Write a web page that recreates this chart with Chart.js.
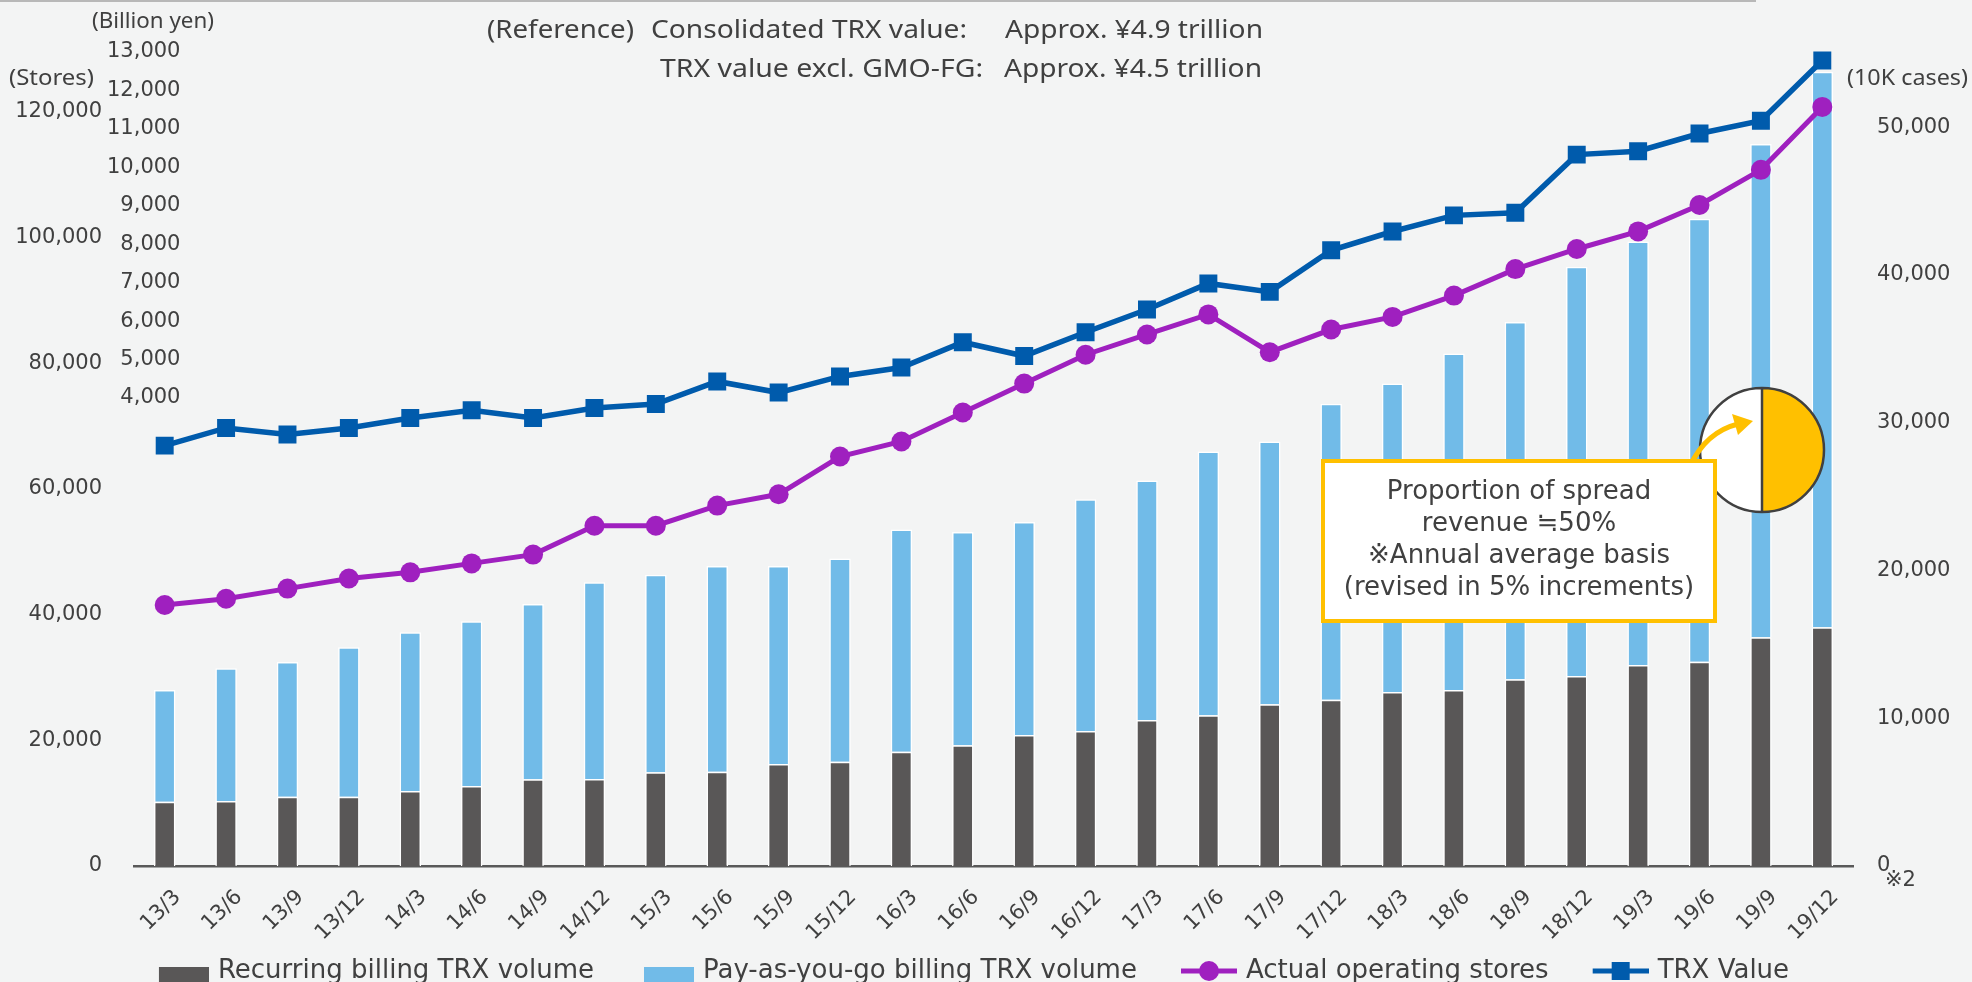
<!DOCTYPE html>
<html>
<head>
<meta charset="utf-8">
<title>Operating stores and TRX volume</title>
<script src="https://cdn.jsdelivr.net/npm/chart.js@4.4.1/dist/chart.umd.min.js"></script>
<style>
    html, body { margin: 0; padding: 0; background: #f3f4f4; }
    canvas { display: block; }
</style>
</head>
<body>
<canvas id="storesChart" width="1972" height="982"></canvas>
<script>
// Quarter ends (YY/M)
const quarters = ['13/3', '13/6', '13/9', '13/12', '14/3', '14/6', '14/9', '14/12',
    '15/3', '15/6', '15/9', '15/12', '16/3', '16/6', '16/9', '16/12',
    '17/3', '17/6', '17/9', '17/12', '18/3', '18/6', '18/9', '18/12',
    '19/3', '19/6', '19/9', '19/12'];

// TRX volume, 10K cases (right axis)
const recurringVolume = [4350, 4400, 4690, 4690, 5070, 5410, 5870, 5890,
    6340, 6380, 6900, 7060, 7730, 8170, 8860, 9130,
    9880, 10200, 10940, 11250, 11770, 11910, 12630, 12860,
    13600, 13820, 15470, 16150];
const payAsYouGoVolume = [7560, 8980, 9110, 10110, 10740, 11150, 11860, 13310,
    13360, 13920, 13400, 13750, 15040, 14430, 14410, 15680,
    16210, 17840, 17780, 20030, 20870, 22770, 24180, 27690,
    28650, 29970, 33380, 37590];

// Actual operating stores (outer left axis)
const operatingStores = [41540, 42540, 44150, 45760, 46740, 48160, 49560, 54160,
    54160, 57360, 59160, 65170, 67560, 72170, 76780, 81370,
    84590, 87790, 81770, 85380, 87390, 90780, 95000, 98200,
    101000, 105200, 110800, 120810];

// TRX value, billion yen (inner left axis)
const trxValue = [2760, 3220, 3050, 3220, 3480, 3680, 3480, 3740,
    3840, 4430, 4140, 4560, 4790, 5450, 5090, 5710,
    6300, 6980, 6760, 7840, 8330, 8750, 8820, 10330,
    10420, 10880, 11210, 12780];

const storeTicks = [0, 20000, 40000, 60000, 80000, 100000, 120000];
const yenTicks = [4000, 5000, 6000, 7000, 8000, 9000, 10000, 11000, 12000, 13000];
const caseTicks = [0, 10000, 20000, 30000, 40000, 50000];

const seriesNames = ['Recurring billing TRX volume', 'Pay-as-you-go billing TRX volume',
    'Actual operating stores', 'TRX Value'];

const BG = '#f3f4f4';
const TEXT = '#404040';
const DARK = '#595757';
const LIGHT = '#71bbe8';
const PURPLE = '#9f20bf';
const BLUE = '#005bac';
const GOLD = '#ffc000';

const PLOT_BOTTOM = 866;     // baseline of the plot in the slide
const LEGEND_MIDDLE = 971;   // vertical middle of the legend row

Chart.defaults.font.family = '"DejaVu Sans", Verdana, sans-serif';
Chart.defaults.color = TEXT;

// legend swatches as small canvases; the empty left part is the gap between items
function legendBox(color) {
    const c = document.createElement('canvas');
    c.width = 104;
    c.height = 32;
    const g = c.getContext('2d');
    g.fillStyle = color;
    g.fillRect(54, 12, 50, 20);
    return c;
}

function legendLine(color, marker) {
    const c = document.createElement('canvas');
    c.width = 104;
    c.height = 24;
    const g = c.getContext('2d');
    g.strokeStyle = color;
    g.lineWidth = 5;
    g.beginPath();
    g.moveTo(48, 12);
    g.lineTo(104, 12);
    g.stroke();
    g.fillStyle = color;
    if (marker === 'circle') {
        g.beginPath();
        g.arc(76, 12, 10, 0, Math.PI * 2);
        g.fill();
    } else {
        g.fillRect(67, 3, 18, 18);
    }
    return c;
}

const legendSwatches = [legendBox(DARK), legendBox(LIGHT), legendLine(PURPLE, 'circle'), legendLine(BLUE, 'rect')];

// stretch a text horizontally to the width it takes in the original slide
function fitText(ctx, text, x, y, width) {
    const w = ctx.measureText(text).width;
    ctx.save();
    ctx.translate(x, y);
    ctx.scale(width / w, 1);
    ctx.fillText(text, 0, 0);
    ctx.restore();
}

const annotations = {
    id: 'annotations',
    afterLayout(chart) {
        // move the legend row down to where the slide has it
        const lg = chart.legend;
        if (!lg) return;
        const opts = lg.options.labels;
        const top = LEGEND_MIDDLE - opts.padding - opts.font.size / 2;
        lg.bottom = top + lg.height;
        lg.top = top;
        lg.left -= 37;
        lg.right -= 37;
    },
    beforeDraw(chart) {
        const ctx = chart.ctx;
        ctx.save();
        ctx.fillStyle = BG;
        ctx.fillRect(0, 0, chart.width, chart.height);
        // remains of the slide title rule
        ctx.fillStyle = '#b8b8b8';
        ctx.fillRect(0, 0, 1756, 2);
        ctx.restore();
    },
    afterDatasetsDraw(chart) {
        const ctx = chart.ctx;
        ctx.save();
        ctx.fillStyle = TEXT;
        ctx.textBaseline = 'middle';
        ctx.textAlign = 'left';

        // axis unit captions
        ctx.font = '22px "Noto Sans"';
        fitText(ctx, '(Billion yen)', 92, 22, 122);
        fitText(ctx, '(Stores)', 9, 79, 85);
        fitText(ctx, '(10K cases)', 1847, 79, 121);

        // reference note
        ctx.font = '25px "Noto Sans"';
        fitText(ctx, '(Reference)', 487, 31, 147);
        fitText(ctx, 'Consolidated TRX value:', 651, 31, 316);
        fitText(ctx, 'Approx. ¥4.9 trillion', 1005, 31, 258);
        fitText(ctx, 'TRX value excl. GMO-FG:', 660, 70, 323);
        fitText(ctx, 'Approx. ¥4.5 trillion', 1004, 70, 258);

        ctx.font = '21px "DejaVu Sans"';
        ctx.fillText('※2', 1885, 881);

        // spread revenue pie
        const cx = 1762, cy = 450, r = 62;
        ctx.fillStyle = '#ffffff';
        ctx.beginPath();
        ctx.arc(cx, cy, r, Math.PI / 2, Math.PI * 1.5);
        ctx.closePath();
        ctx.fill();
        ctx.fillStyle = GOLD;
        ctx.beginPath();
        ctx.arc(cx, cy, r, -Math.PI / 2, Math.PI / 2);
        ctx.closePath();
        ctx.fill();
        ctx.strokeStyle = TEXT;
        ctx.lineWidth = 2.5;
        ctx.beginPath();
        ctx.arc(cx, cy, r, 0, Math.PI * 2);
        ctx.moveTo(cx, cy - r);
        ctx.lineTo(cx, cy + r);
        ctx.stroke();

        // arrow from the box to the pie
        ctx.strokeStyle = GOLD;
        ctx.lineWidth = 5;
        ctx.beginPath();
        ctx.moveTo(1690, 466);
        ctx.quadraticCurveTo(1706, 432, 1738, 424);
        ctx.stroke();
        ctx.fillStyle = GOLD;
        ctx.beginPath();
        ctx.moveTo(1753, 421);
        ctx.lineTo(1732, 414);
        ctx.lineTo(1738, 435);
        ctx.closePath();
        ctx.fill();

        // callout box
        ctx.fillStyle = '#ffffff';
        ctx.fillRect(1323, 461, 392, 160);
        ctx.strokeStyle = GOLD;
        ctx.lineWidth = 4;
        ctx.strokeRect(1323, 461, 392, 160);
        ctx.fillStyle = TEXT;
        ctx.textAlign = 'center';
        ctx.font = '26px "DejaVu Sans"';
        ctx.fillText('Proportion of spread', 1519, 492);
        ctx.fillText('revenue ≒50%', 1519, 524);
        ctx.fillText('※Annual average basis', 1519, 556);
        ctx.fillText('(revised in 5% increments)', 1519, 588);
        ctx.restore();
    }
};

const tickFont = { family: '"DejaVu Sans"', size: 21 };
const thousands = v => Number(v).toLocaleString('en-US');

new Chart(document.getElementById('storesChart'), {
    type: 'bar',
    data: {
        labels: quarters,
        datasets: [{
            label: seriesNames[0],
            data: recurringVolume,
            yAxisID: 'yCases',
            backgroundColor: DARK,
            borderColor: '#ffffff',
            borderWidth: 1.5,
            borderSkipped: 'bottom',
            barPercentage: 0.35,
            categoryPercentage: 1,
            order: 3
        }, {
            label: seriesNames[1],
            data: payAsYouGoVolume,
            yAxisID: 'yCases',
            backgroundColor: LIGHT,
            borderColor: '#ffffff',
            borderWidth: 1.5,
            borderSkipped: 'bottom',
            barPercentage: 0.35,
            categoryPercentage: 1,
            order: 4
        }, {
            type: 'line',
            label: seriesNames[2],
            data: operatingStores,
            yAxisID: 'yStores',
            borderColor: PURPLE,
            backgroundColor: PURPLE,
            borderWidth: 5,
            pointStyle: 'circle',
            pointRadius: 10,
            pointBorderWidth: 0,
            tension: 0,
            order: 1
        }, {
            type: 'line',
            label: seriesNames[3],
            data: trxValue,
            yAxisID: 'yYen',
            borderColor: BLUE,
            backgroundColor: BLUE,
            borderWidth: 5.5,
            pointStyle: 'rect',
            pointRadius: 12.7,
            pointBorderWidth: 0,
            tension: 0,
            order: 0
        }]
    },
    options: {
        responsive: false,
        maintainAspectRatio: false,
        devicePixelRatio: 1,
        animation: false,
        layout: { padding: { top: 40, left: 0, right: 0, bottom: 0 } },
        plugins: {
            tooltip: { enabled: false },
            legend: {
                position: 'bottom',
                labels: {
                    usePointStyle: true,
                    pointStyleWidth: 96,
                    padding: 0,
                    color: TEXT,
                    font: { family: '"DejaVu Sans"', size: 26 },
                    generateLabels: () => legendSwatches.map((img, i) => ({
                        text: seriesNames[i],
                        pointStyle: img,
                        datasetIndex: i,
                        fillStyle: 'transparent',
                        strokeStyle: 'transparent',
                        lineWidth: 0,
                        hidden: false,
                        fontColor: TEXT
                    }))
                }
            }
        },
        scales: {
            x: {
                stacked: true,
                offset: true,
                grid: { display: false, drawTicks: false },
                border: { display: true, color: '#595959', width: 2.5 },
                ticks: {
                    font: { family: '"DejaVu Sans"', size: 21 },
                    color: TEXT,
                    minRotation: 45,
                    maxRotation: 45,
                    autoSkip: false,
                    padding: 19,
                    labelOffset: 13
                },
                afterFit(scale) {
                    const lg = scale.chart.legend;
                    scale.height = scale.chart.height - PLOT_BOTTOM - (lg ? lg.height : 0);
                }
            },
            yCases: {
                type: 'linear',
                position: 'right',
                stacked: true,
                min: 0,
                max: 55890,
                grid: { display: false, drawTicks: false },
                border: { display: false },
                afterBuildTicks(scale) { scale.ticks = caseTicks.map(v => ({ value: v })); },
                ticks: { font: tickFont, color: TEXT, padding: 24, callback: thousands },
                afterFit(scale) { scale.width = 119; }
            },
            yStores: {
                type: 'linear',
                position: 'left',
                weight: 1,
                min: 0,
                max: 131460,
                grid: { display: false, drawTicks: false },
                border: { display: false },
                afterBuildTicks(scale) { scale.ticks = storeTicks.map(v => ({ value: v })); },
                ticks: { font: tickFont, color: TEXT, padding: 8, callback: thousands },
                afterFit(scale) { scale.width = 110; }
            },
            yYen: {
                type: 'linear',
                position: 'left',
                weight: 0,
                min: -8176,
                max: 13312,
                grid: { display: false, drawTicks: false },
                border: { display: false },
                afterBuildTicks(scale) { scale.ticks = yenTicks.map(v => ({ value: v })); },
                // mirrored so the labels may sit over the plot edge like in the slide
                ticks: { font: tickFont, color: TEXT, mirror: true, crossAlign: 'far', padding: -27, callback: thousands },
                afterFit(scale) { scale.width = 24; }
            }
        }
    },
    plugins: [annotations]
});
</script>
</body>
</html>
